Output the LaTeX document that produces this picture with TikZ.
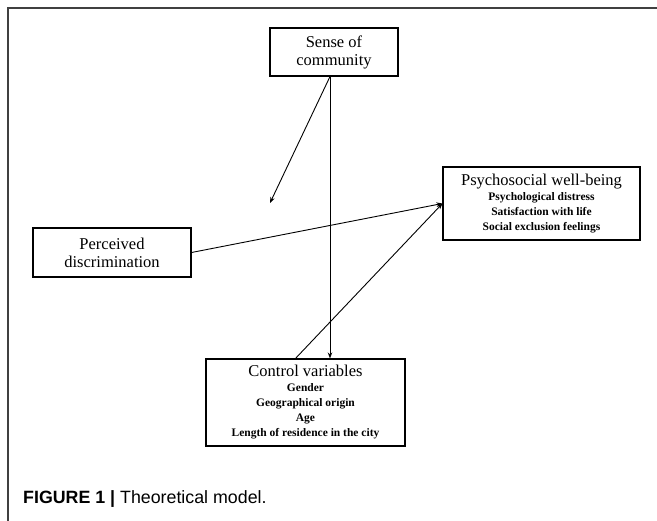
\documentclass[tikz,border=0pt]{standalone}
\usepackage{fontspec}
\setmainfont{Liberation Serif}
\newfontfamily\capfont{Liberation Sans}
\usetikzlibrary{arrows.meta, positioning}

\newcommand{\subline}[1]{{\bfseries\fontsize{11.5}{15}\selectfont #1}}

\begin{document}
\begin{tikzpicture}[x=1pt, y=-1pt,
    box/.style={draw, line width=1.1pt, align=center, inner sep=2pt, font=\fontsize{16.5}{18}\selectfont},
    listbox/.style={box, font=\fontsize{16.5}{15}\selectfont},
    link/.style={line width=0.9pt, -{Stealth[length=6pt, width=4.5pt]}}]
    \useasboundingbox (0,0) rectangle (657,521);
    % frame
    \draw[line width=1.3pt, black!75] (657,8) -- (8,8) -- (8,521);
    % boxes
    \node[box, minimum width=128, minimum height=48] (sense) at (334,52) {Sense of\\community};
    \node[box, minimum width=158, minimum height=49] (perceived) at (112,252.5) {Perceived\\discrimination};
    \node[listbox, minimum width=197, minimum height=73] (wellbeing) at (541.5,203.5)
        {Psychosocial well-being\\ \subline{Psychological distress}\\ \subline{Satisfaction with life}\\ \subline{Social exclusion feelings}};
    \node[listbox, minimum width=199, minimum height=87] (control) at (305.5,402.5)
        {Control variables\\ \subline{Gender}\\ \subline{Geographical origin}\\ \subline{Age}\\ \subline{Length of residence in the city}};
    \coordinate (moderate) at (270,203);
    % arrows
    \draw[link] ([xshift=-4]sense.south) -- (moderate);
    \draw[link] ([xshift=-4]sense.south) -- ([xshift=24.5]control.north);
    \draw[link] (perceived.east) -- (wellbeing.west);
    \draw[link] ([xshift=-10]control.north) -- (wellbeing.west);
    % caption
    \node[anchor=base west, inner sep=0pt, font=\capfont\fontsize{17.8}{20}\selectfont] (caption) at (23,504)
        {\textbf{FIGURE 1} \textbf{|} Theoretical model.};
\end{tikzpicture}
\end{document}
